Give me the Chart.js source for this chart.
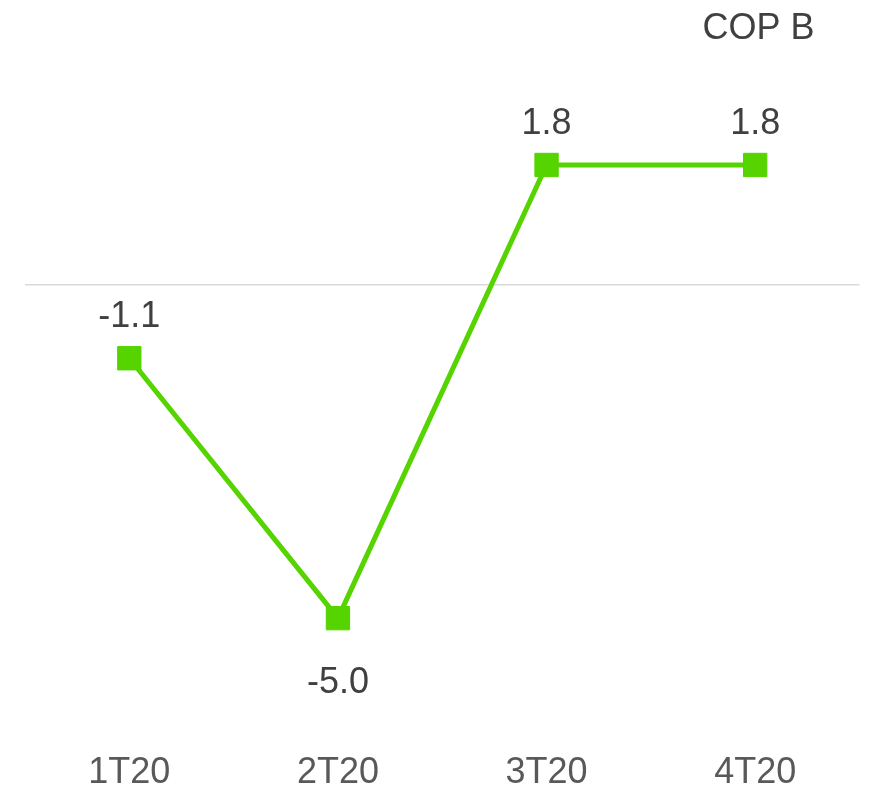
<!DOCTYPE html>
<html>
<head>
<meta charset="utf-8">
<script src="https://cdn.jsdelivr.net/npm/chart.js@4/dist/chart.umd.min.js"></script>
<style>
  html, body { margin: 0; padding: 0; background: #fff; }
  #wrap { width: 877px; height: 788px; }
</style>
</head>
<body>
<div id="wrap"><canvas id="chart"></canvas></div>
<script>
// data
const quarters = ['1T20', '2T20', '3T20', '4T20']
const copB = [-1.1, -5.0, 1.8, 1.8]
const seriesName = 'COP B'

const green = '#55D400'
const FONT = '"Liberation Sans", Arial, sans-serif'

// value labels above each point, below when it is a local low
const valueLabels = {
    id: 'valueLabels',
    afterDatasetsDraw(chart) {
        const ctx = chart.ctx
        const meta = chart.getDatasetMeta(0)
        const data = chart.data.datasets[0].data
        ctx.save()
        ctx.font = '36px ' + FONT
        ctx.fillStyle = '#404040'
        ctx.textAlign = 'center'
        ctx.textBaseline = 'middle'
        meta.data.forEach((pt, i) => {
            const v = data[i]
            const prev = i > 0 ? data[i - 1] : Infinity
            const next = i < data.length - 1 ? data[i + 1] : Infinity
            const below = v < prev && v < next
            ctx.fillText(v.toFixed(1), pt.x, below ? pt.y + 65 : pt.y - 41)
        })
        ctx.restore()
    }
}

// series name, top right, text only
const seriesTitle = {
    id: 'seriesTitle',
    afterDraw(chart) {
        const ctx = chart.ctx
        ctx.save()
        ctx.font = '36px ' + FONT
        ctx.fillStyle = '#404040'
        ctx.textAlign = 'right'
        ctx.textBaseline = 'middle'
        ctx.fillText(chart.data.datasets[0].label, chart.chartArea.right - 45, 29)
        ctx.restore()
    }
}

new Chart(document.getElementById('chart'), {
    type: 'line',
    data: {
        labels: quarters,
        datasets: [{
            label: seriesName,
            data: copB,
            borderColor: green,
            backgroundColor: green,
            borderWidth: 5,
            pointStyle: 'rect',
            pointRadius: 16.5,
            pointBorderWidth: 1,
            pointBorderColor: green,
            pointBackgroundColor: green,
            tension: 0
        }]
    },
    options: {
        responsive: true,
        maintainAspectRatio: false,
        animation: false,
        layout: { padding: { left: 25, right: 15, top: 55, bottom: -21 } },
        plugins: {
            legend: { display: false },
            tooltip: { enabled: false }
        },
        scales: {
            x: {
                offset: true,
                grid: { display: false },
                border: { display: false },
                ticks: { color: '#595959', font: { family: FONT, size: 36 }, padding: 14 }
            },
            y: {
                min: -6.675,
                max: 3.45,
                afterBuildTicks: scale => { scale.ticks = [{ value: 0 }] },
                grid: { color: '#d9d9d9', lineWidth: 1.5, drawTicks: false },
                border: { display: false },
                ticks: { display: false }
            }
        }
    },
    plugins: [valueLabels, seriesTitle]
})
</script>
</body>
</html>
